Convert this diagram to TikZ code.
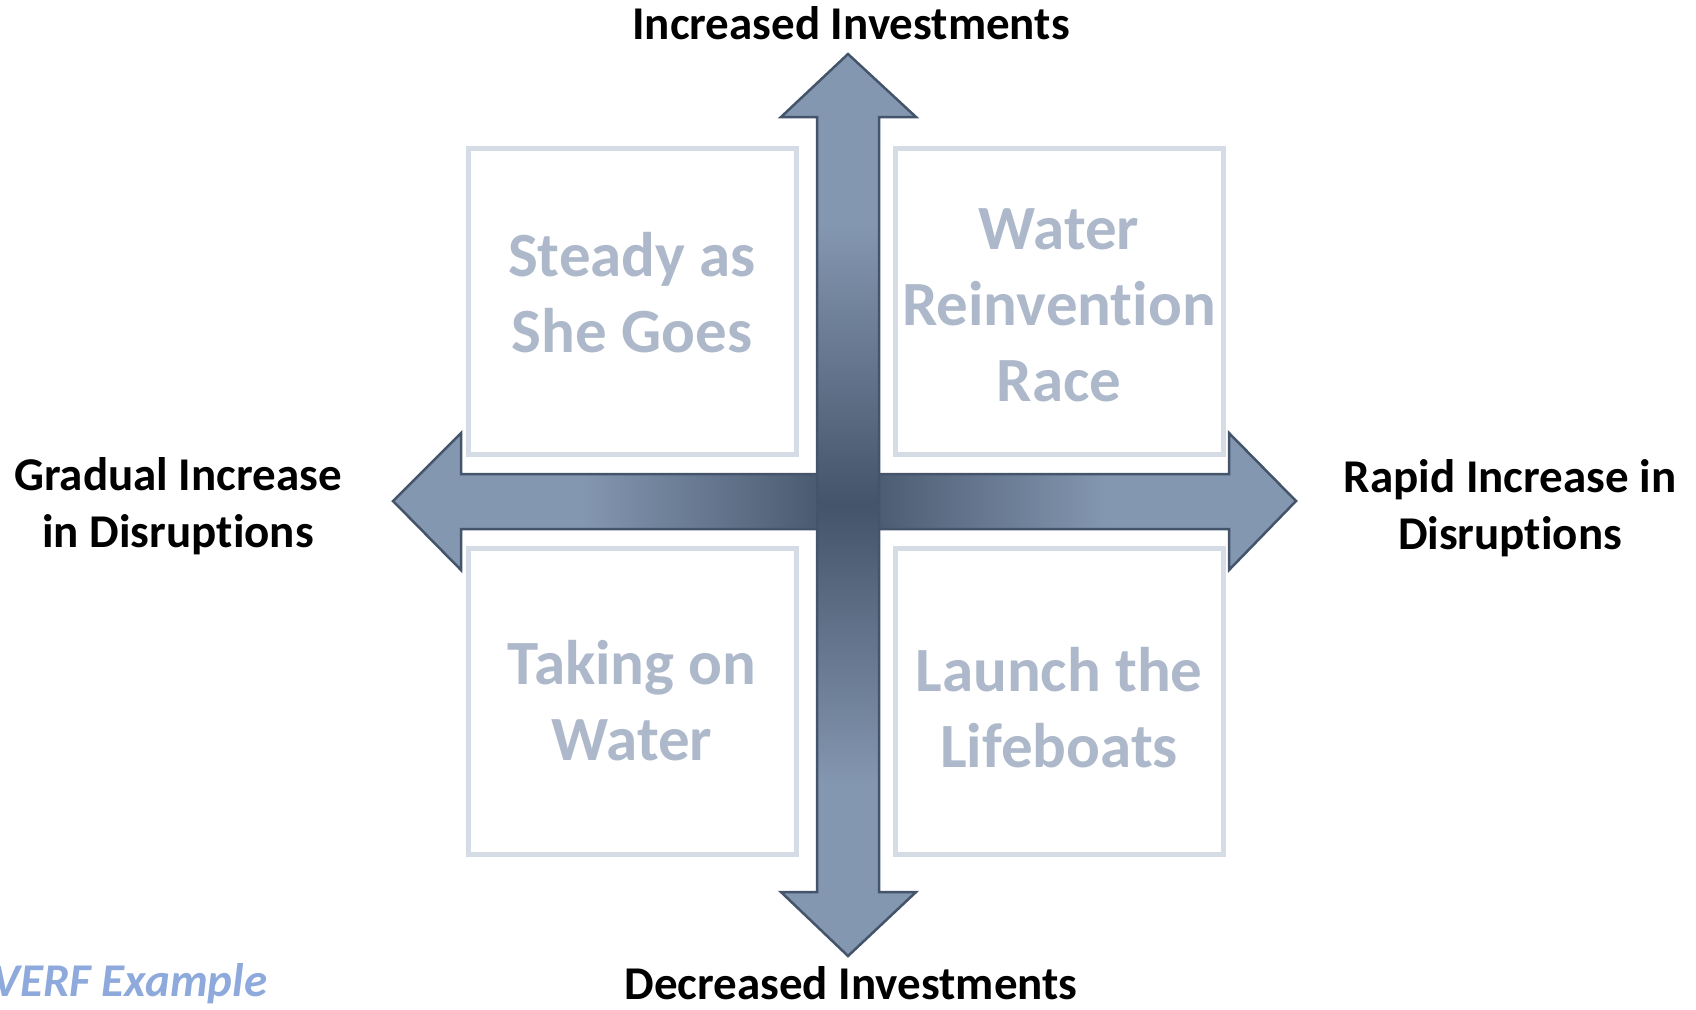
\documentclass[tikz,border=0pt]{standalone}
\usepackage{fontspec}
\setmainfont{Carlito}[Ligatures=CommonOff]
\definecolor{armlight}{HTML}{8497B0}
\definecolor{armdark}{HTML}{44546A}
\definecolor{armedge}{HTML}{44546A}
\definecolor{boxedge}{HTML}{D6DCE5}
\definecolor{boxtext}{HTML}{ADB9CA}
\definecolor{notetext}{HTML}{8EA9DB}
\pgfdeclarehorizontalshading{hshade}{100bp}{color(0bp)=(armlight); color(35.5bp)=(armlight); color(50bp)=(armdark); color(64.5bp)=(armlight); color(100bp)=(armlight)}
\pgfdeclareverticalshading{vshade}{100bp}{color(0bp)=(armlight); color(34.5bp)=(armlight); color(50bp)=(armdark); color(65.5bp)=(armlight); color(100bp)=(armlight)}
\begin{document}
\begin{tikzpicture}[x=0.5pt,y=-0.5pt]
        % Styles
        \tikzstyle{arm}=[draw=armedge,line width=1.25pt,line join=miter]
        \tikzstyle{quad}=[draw=boxedge,line width=2.5pt,minimum width=164pt,minimum height=153pt,inner sep=0pt]
        \tikzstyle{quad text}=[align=center,text=boxtext,font=\fontsize{31.5}{38}\selectfont\bfseries]
        \tikzstyle{axis label}=[align=center,font=\fontsize{23.5}{28.5}\selectfont\bfseries]
        %The graphic
        \useasboundingbox (0,0) rectangle (1696,1009);
        %arms, the horizontal one goes underneath
        \shadedraw[arm,shading=hshade] (393,501) -- (461,433) -- (461,474) -- (1229,474) -- (1229,433) -- (1296,501)
            -- (1229,570) -- (1229,529) -- (461,529) -- (461,570) -- cycle;
        \shadedraw[arm,shading=vshade] (848,54) -- (916,117) -- (879,117) -- (879,892) -- (916,892) -- (848,956)
            -- (781,892) -- (817,892) -- (817,117) -- (781,117) -- cycle;
        %quadrants
        \node[quad] (steady) at (632,301) {};
        \node[quad] (race) at (1059,301) {};
        \node[quad] (water) at (632,701) {};
        \node[quad] (lifeboats) at (1059,701) {};
        \node[quad text] (steadytext) at ([yshift=4.3pt]steady.center) {Steady as\\She Goes};
        \node[quad text] (racetext) at ([yshift=-2.2pt]race.center) {Water\\Reinvention\\Race};
        \node[quad text] (watertext) at (water.center) {Taking on\\Water};
        \node[quad text] (lifeboatstext) at ([yshift=-3.2pt]lifeboats.center) {Launch the\\Lifeboats};
        %axis labels
        \node[axis label,anchor=base] (up) at (851,39) {Increased Investments};
        \node[axis label,anchor=base] (down) at (851,999) {Decreased Investments};
        \node[axis label] (gradual) at (178,506) {Gradual Increase\\in Disruptions};
        \node[axis label] (rapid) at (1510,508) {Rapid Increase in\\Disruptions};
        \node[anchor=base west,inner sep=0pt,text=notetext,font=\fontsize{23.5}{28}\selectfont\bfseries\itshape] (note) at (-8,996) {VERF Example};
\end{tikzpicture}
\end{document}
